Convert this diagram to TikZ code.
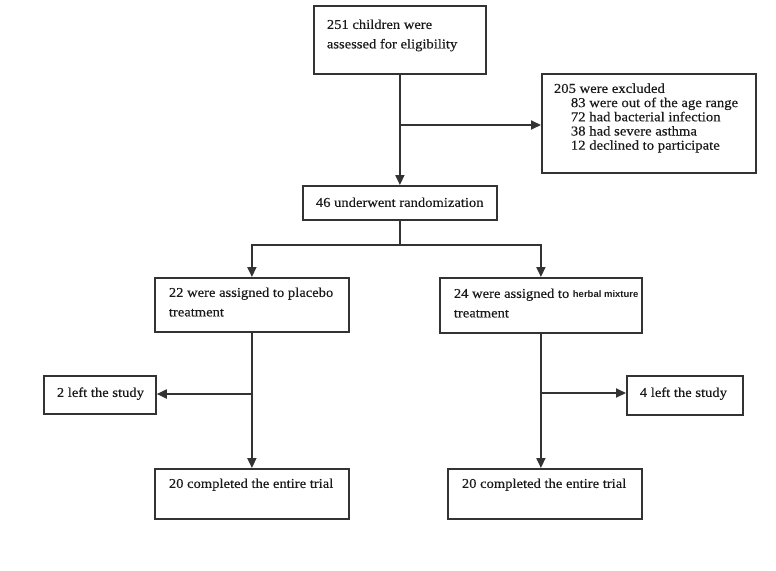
\documentclass[tikz,border=0pt]{standalone}
\usepackage{fontspec}
\setmainfont{Liberation Serif}[FakeStretch=1.08,FakeBold=0.3]
\newfontfamily\herbfont{Liberation Sans}
\usetikzlibrary{arrows.meta}
\definecolor{linec}{HTML}{333333}
\definecolor{textc}{HTML}{1A1A1A}
\newcommand\bt[5]{\parbox[c][#2][t]{#1}{\raggedright\leftskip=#3\relax\rule{0pt}{#4}#5\par}}
\begin{document}
\begin{tikzpicture}[x=1pt,y=-1pt,
  box/.style={draw=linec, line width=1.8pt, anchor=north west, inner sep=0pt, fill=white, text=textc},
  conn/.style={draw=linec, line width=1.8pt},
  arr/.style={conn, -{Triangle[length=10pt,width=9pt]}},
  mainf/.style={font=\fontsize{13.5}{19.5}\selectfont},
  smallf/.style={font=\fontsize{13.6}{14.2}\selectfont}]
\useasboundingbox[fill=white] (0,0) rectangle (776,570);

\node[box,mainf] (b1) at (313,5) {\bt{172pt}{68pt}{13pt}{23pt}{251 children were\\assessed for eligibility}};
\node[box,smallf] (b2) at (541,73) {\bt{214pt}{99pt}{12pt}{19pt}{205 were excluded\\\hspace*{17pt}83 were out of the age range\\\hspace*{17pt}72 had bacterial infection\\\hspace*{17pt}38 had severe asthma\\\hspace*{17pt}12 declined to participate}};
\node[box,mainf] (b3) at (302,185) {\bt{194pt}{34pt}{13pt}{21pt}{46 underwent randomization}};
\node[box,mainf] (b4) at (154,277) {\bt{194pt}{54pt}{14pt}{19pt}{22 were assigned to placebo\\treatment}};
\node[box,mainf] (b5) at (439,277) {\bt{202pt}{55pt}{14pt}{20pt}{24 were assigned to {\herbfont\bfseries\fontsize{9.5}{10}\selectfont herbal mixture}\\treatment}};
\node[box,mainf] (b6) at (43,375) {\bt{112pt}{38pt}{13pt}{21pt}{2 left the study}};
\node[box,mainf] (b7) at (626,375) {\bt{116pt}{39pt}{13pt}{21pt}{4 left the study}};
\node[box,mainf] (b8) at (154,468) {\bt{194pt}{50pt}{14pt}{19pt}{20 completed the entire trial}};
\node[box,mainf] (b9) at (447,468) {\bt{194pt}{50pt}{14pt}{19pt}{20 completed the entire trial}};

\coordinate (j1) at (b1.south |- 0,125);
\coordinate (j2) at (b3.south |- 0,245);
\coordinate (j3) at (b4.south |- 0,394);
\coordinate (j4) at (b5.south |- 0,393);

\draw[arr] (b1.south) -- (b3.north);
\draw[arr] (j1) -- (b2.west |- j1);
\draw[conn] (b3.south) -- (j2);
\draw[arr] (j2) -| (b4.north);
\draw[arr] (j2) -| (b5.north);
\draw[arr] (b4.south) -- (b4.south |- b8.north);
\draw[arr] (j3) -- (b6.east |- j3);
\draw[arr] (b5.south) -- (b5.south |- b9.north);
\draw[arr] (j4) -- (b7.west |- j4);
\end{tikzpicture}
\end{document}
